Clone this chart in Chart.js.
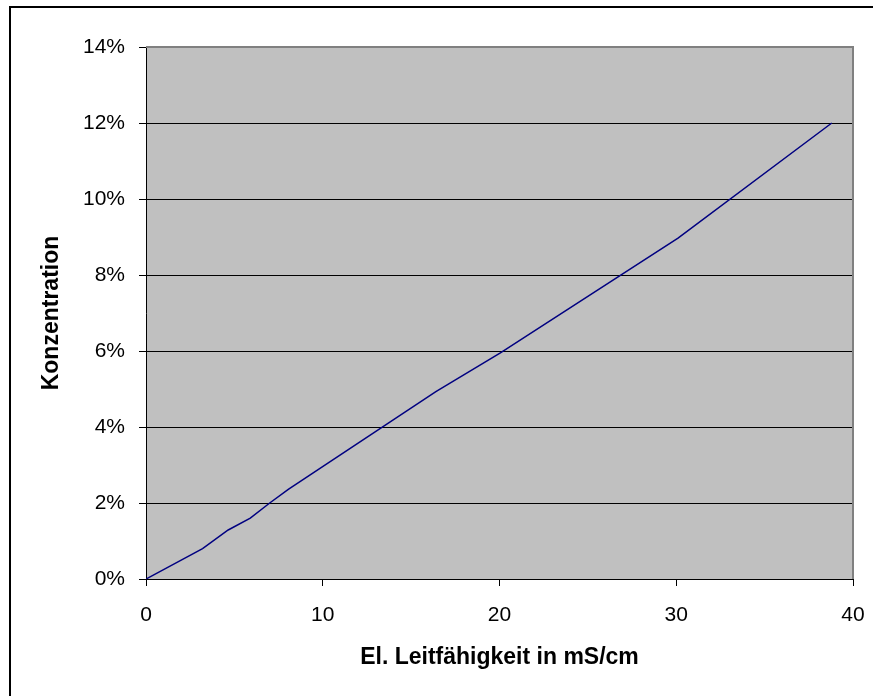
<!DOCTYPE html>
<html>
<head>
<meta charset="utf-8">
<script src="https://cdn.jsdelivr.net/npm/chart.js@4"></script>
<style>
  html, body { margin: 0; padding: 0; background: #fff; }
  #wrap { position: relative; width: 873px; height: 696px; }
</style>
</head>
<body>
<div id="wrap"><canvas id="c" width="873" height="696"></canvas></div>
<script>
// Data
const conductivity = [0, 3.2, 4.65, 5.9, 7.0, 8.05, 16.4, 20.05, 30.1, 38.8];   // mS/cm
const concentration = [0, 0.8, 1.29, 1.6, 2.0, 2.36, 4.93, 5.95, 8.97, 12.0];   // %
const xTicks = [0, 10, 20, 30, 40];
const yTicks = [0, 2, 4, 6, 8, 10, 12, 14];
const xTitle = 'El. Leitfähigkeit in mS/cm';
const yTitle = 'Konzentration';

const points = conductivity.map((x, i) => ({ x: x, y: concentration[i] }));

const bgPlugin = {
  id: 'bgPlugin',
  beforeDraw(chart) {
    const { ctx, chartArea: a } = chart;
    ctx.save();
    ctx.fillStyle = '#ffffff';
    ctx.fillRect(0, 0, chart.width, chart.height);
    ctx.fillStyle = '#C0C0C0';
    ctx.fillRect(a.left, a.top, a.right - a.left, a.bottom - a.top);
    // outer frame (top and left)
    ctx.fillStyle = '#000000';
    ctx.fillRect(9, 6, chart.width - 9, 2);
    ctx.fillRect(9, 6, 2, chart.height - 6);
    ctx.restore();
  },
  afterDatasetsDraw(chart) {
    const { ctx, chartArea: a } = chart;
    ctx.save();
    ctx.strokeStyle = '#808080';
    ctx.lineWidth = 2;
    ctx.beginPath();
    ctx.moveTo(a.left, a.top);
    ctx.lineTo(a.right, a.top);
    ctx.lineTo(a.right, a.bottom);
    ctx.stroke();
    ctx.restore();
  }
};

new Chart(document.getElementById('c'), {
  type: 'scatter',
  data: {
    datasets: [{
      data: points,
      showLine: true,
      borderColor: '#000080',
      borderWidth: 1.5,
      pointRadius: 0,
      tension: 0,
      fill: false
    }]
  },
  options: {
    responsive: false,
    animation: false,
    devicePixelRatio: 1,
    layout: { padding: { top: 47, right: 20, left: 0, bottom: 0 } },
    plugins: { legend: { display: false }, tooltip: { enabled: false } },
    scales: {
      x: {
        type: 'linear',
        min: 0, max: 40,
        afterFit(scale) { scale.height = 117; scale.paddingLeft = 0; scale.paddingRight = 0; },
        afterBuildTicks(scale) { scale.ticks = xTicks.map(v => ({ value: v })); },
        grid: { drawOnChartArea: false, drawTicks: true, tickLength: 7, color: '#000000', lineWidth: 1 },
        border: { display: true, color: '#000000', width: 1 },
        ticks: {
          color: '#000000',
          padding: 17,
          maxRotation: 0,
          font: { family: '"Liberation Sans", Arial, sans-serif', size: 21 }
        },
        title: {
          display: true,
          text: xTitle,
          color: '#000000',
          padding: { top: 0, bottom: 25 },
          font: { family: '"Liberation Sans", Arial, sans-serif', size: 23, weight: 'bold' }
        }
      },
      y: {
        type: 'linear',
        min: 0, max: 14,
        afterFit(scale) { scale.width = 146; scale.paddingTop = 0; scale.paddingBottom = 0; },
        afterBuildTicks(scale) { scale.ticks = yTicks.map(v => ({ value: v })); },
        grid: { drawOnChartArea: true, drawTicks: true, tickLength: 7, color: '#000000', lineWidth: 1 },
        border: { display: true, color: '#000000', width: 1 },
        ticks: {
          color: '#000000',
          padding: 14,
          font: { family: '"Liberation Sans", Arial, sans-serif', size: 21 },
          callback: v => v + '%'
        },
        title: {
          display: true,
          text: yTitle,
          color: '#000000',
          padding: { top: 38, bottom: 0 },
          font: { family: '"Liberation Sans", Arial, sans-serif', size: 23, weight: 'bold' }
        }
      }
    }
  },
  plugins: [bgPlugin]
});
</script>
</body>
</html>
